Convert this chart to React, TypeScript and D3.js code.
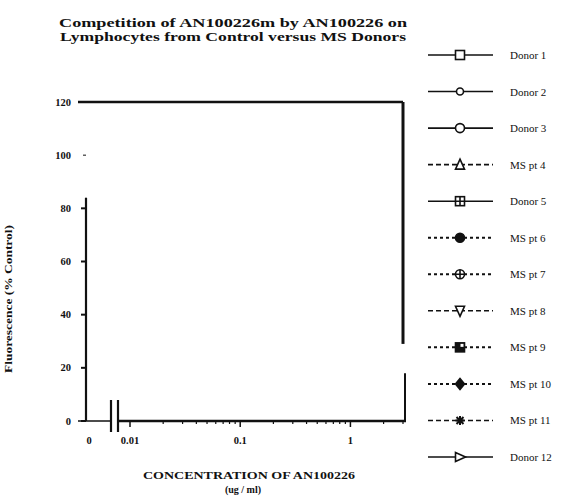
import React from "react";
import * as d3 from "d3";

const titleLines = [
  "Competition of AN100226m by AN100226 on",
  "Lymphocytes from Control versus MS Donors",
];
const yTicks = [0, 20, 40, 60, 80, 100, 120];
const xTickValues = [0.01, 0.1, 1];
const xTickLabels = ["0.01", "0.1", "1"];
const xMinorTicks = [0.02, 0.03, 0.04, 0.05, 0.06, 0.07, 0.08, 0.09, 0.2, 0.3, 0.4, 0.5, 0.6, 0.7, 0.8, 0.9, 2, 3];
const legendLabels = [
  "Donor 1", "Donor 2", "Donor 3", "MS pt 4", "Donor 5", "MS pt 6",
  "MS pt 7", "MS pt 8", "MS pt 9", "MS pt 10", "MS pt 11", "Donor 12",
];
const legendMarkers = [
  "square", "circleSmall", "circle", "triangleUp", "squareCross", "circleFilled",
  "circlePlus", "triangleDown", "squareHalf", "diamondFilled", "asterisk", "triangleRight",
];
const legendLineStyles = [
  "solid", "solid", "solid", "dash", "solid", "dot",
  "dot", "dash", "dot", "dot", "dash", "solid",
];
// frame extents (data units)
const leftAxisTop = 84;
const rightBorderGap = [29, 18];

const INK = "#111";

function Marker({ kind, cx, cy }: { kind: string; cx: number; cy: number }) {
  const s = 4.5;
  const common = { stroke: INK, strokeWidth: 1.6 };
  switch (kind) {
    case "square":
      return <rect x={cx - s} y={cy - s} width={2 * s} height={2 * s} fill="#fff" {...common} />;
    case "circleSmall":
      return <circle cx={cx} cy={cy} r={3.5} fill="#fff" {...common} />;
    case "circle":
      return <circle cx={cx} cy={cy} r={4.5} fill="#fff" {...common} />;
    case "triangleUp":
      return <path d={`M${cx},${cy - s - 1}L${cx + s},${cy + s}L${cx - s},${cy + s}Z`} fill="#fff" {...common} />;
    case "triangleDown":
      return <path d={`M${cx},${cy + s + 1}L${cx + s},${cy - s}L${cx - s},${cy - s}Z`} fill="#fff" {...common} />;
    case "triangleRight":
      return <path d={`M${cx + s + 1},${cy}L${cx - s},${cy - s}L${cx - s},${cy + s}Z`} fill="#fff" {...common} />;
    case "squareCross":
      return (
        <g>
          <rect x={cx - s} y={cy - s} width={2 * s} height={2 * s} fill="#fff" {...common} />
          <path d={`M${cx - s},${cy}H${cx + s}M${cx},${cy - s}V${cy + s}`} {...common} />
        </g>
      );
    case "circleFilled":
      return <circle cx={cx} cy={cy} r={4.5} fill={INK} {...common} />;
    case "circlePlus":
      return (
        <g>
          <circle cx={cx} cy={cy} r={4.5} fill="#fff" {...common} />
          <path d={`M${cx - 4.5},${cy}H${cx + 4.5}M${cx},${cy - 4.5}V${cy + 4.5}`} {...common} />
        </g>
      );
    case "squareHalf":
      return (
        <g>
          <rect x={cx - s} y={cy - s} width={2 * s} height={2 * s} fill={INK} {...common} />
          <rect x={cx + 0.5} y={cy - s + 1} width={s - 1.5} height={s - 1.5} fill="#fff" />
        </g>
      );
    case "diamondFilled":
      return <path d={`M${cx},${cy - s - 1}L${cx + s},${cy}L${cx},${cy + s + 1}L${cx - s},${cy}Z`} fill={INK} {...common} />;
    case "asterisk":
      return (
        <path
          d={`M${cx - s},${cy}H${cx + s}M${cx},${cy - s}V${cy + s}M${cx - 3.5},${cy - 3.5}L${cx + 3.5},${cy + 3.5}M${cx - 3.5},${cy + 3.5}L${cx + 3.5},${cy - 3.5}`}
          stroke={INK}
          strokeWidth={2}
        />
      );
    default:
      return null;
  }
}

export default function App() {
  const width = 570;
  const height = 500;
  const y = d3.scaleLinear().domain([0, 120]).range([421, 102]);
  const x = d3.scaleLog().domain([0.01, 3]).range([130, 403]);
  const zeroX = 86;
  const breakX = [111, 118];
  const legendY = d3.scaleLinear().domain([0, 11]).range([55, 457]);
  const serif = "'Liberation Serif', 'DejaVu Serif', serif";

  return (
    <svg
      width={width}
      height={height}
      style={{ position: "absolute", left: 0, top: 0, background: "#fff" }}
      fontFamily={serif}
    >
      <rect width={width} height={height} fill="#fff" />
      {/* Title */}
      {titleLines.map((t, i) => (
        <text
          key={i}
          x={233}
          y={27 + i * 14}
          textAnchor="middle"
          fontSize={13.5}
          fontWeight="bold"
          fill={INK}
          textLength={i === 0 ? 348 : 346}
          lengthAdjust="spacingAndGlyphs"
        >
          {t}
        </text>
      ))}

      {/* Top border */}
      <line x1={78} x2={x(3)} y1={y(120)} y2={y(120)} stroke={INK} strokeWidth={2.5} />
      {/* Right border, two segments */}
      <line x1={x(3)} x2={x(3)} y1={y(120)} y2={y(rightBorderGap[0])} stroke={INK} strokeWidth={3} />
      <line x1={x(3) + 2} x2={x(3) + 2} y1={y(rightBorderGap[1])} y2={y(0)} stroke={INK} strokeWidth={2} />
      {/* Left axis */}
      <line x1={zeroX} x2={zeroX} y1={y(leftAxisTop)} y2={y(0)} stroke={INK} strokeWidth={2.2} />
      {yTicks.map((t) => (
        <g key={t}>
          {t < 120 && t <= leftAxisTop && (
            <line x1={zeroX - 5} x2={zeroX} y1={y(t)} y2={y(t)} stroke={INK} strokeWidth={2} />
          )}
          <text x={71} y={y(t) + 3.5} textAnchor="end" fontSize={10.5} fontWeight="bold" fill={INK}>
            {t}
          </text>
        </g>
      ))}
      <line x1={zeroX - 3} x2={zeroX} y1={y(100)} y2={y(100)} stroke={INK} strokeWidth={1} />
      {/* Y axis title */}
      <text
        transform={`translate(12,${299}) rotate(-90)`}
        textAnchor="middle"
        fontSize={9.5}
        fontWeight="bold"
        fill={INK}
        textLength={148}
        lengthAdjust="spacingAndGlyphs"
      >
        Fluorescence (% Control)
      </text>

      {/* Bottom axis: zero segment, break, log segment */}
      <line x1={78} x2={breakX[0]} y1={y(0)} y2={y(0)} stroke={INK} strokeWidth={1.6} />
      <line x1={breakX[1]} x2={x(3) + 3} y1={y(0)} y2={y(0)} stroke={INK} strokeWidth={2.4} />
      {breakX.map((bx) => (
        <line key={bx} x1={bx} x2={bx} y1={400} y2={432} stroke={INK} strokeWidth={2.2} />
      ))}
      {xTickValues.map((v) => (
        <line key={v} x1={x(v)} x2={x(v)} y1={y(0)} y2={y(0) + 6} stroke={INK} strokeWidth={1.5} />
      ))}
      {xMinorTicks.map((v) => (
        <line key={v} x1={x(v)} x2={x(v)} y1={y(0)} y2={y(0) + 3} stroke={INK} strokeWidth={1.2} />
      ))}
      <text x={zeroX + 3} y={444} textAnchor="middle" fontSize={10.5} fontWeight="bold" fill={INK}>
        0
      </text>
      {xTickValues.map((v, i) => (
        <text key={v} x={x(v)} y={444} textAnchor="middle" fontSize={10.5} fontWeight="bold" fill={INK}>
          {xTickLabels[i]}
        </text>
      ))}
      <text x={249} y={479} textAnchor="middle" fontSize={10.5} fontWeight="bold" fill={INK} textLength={212} lengthAdjust="spacingAndGlyphs">
        CONCENTRATION OF AN100226
      </text>
      <text x={243} y={493} textAnchor="middle" fontSize={10} fontWeight="bold" fill={INK}>
        (ug / ml)
      </text>

      {/* Legend */}
      {legendLabels.map((lab, i) => {
        const ly = legendY(i);
        const style = legendLineStyles[i];
        const dash = style === "dash" ? "5,3" : style === "dot" ? "3,3" : undefined;
        const sw = style === "dot" ? 2 : 1.6;
        return (
          <g key={lab}>
            <line x1={428} x2={493} y1={ly} y2={ly} stroke={INK} strokeWidth={sw} strokeDasharray={dash} />
            <Marker kind={legendMarkers[i]} cx={460} cy={ly} />
            <text x={510} y={ly + 4} fontSize={11} fill={INK}>
              {lab}
            </text>
          </g>
        );
      })}
    </svg>
  );
}
